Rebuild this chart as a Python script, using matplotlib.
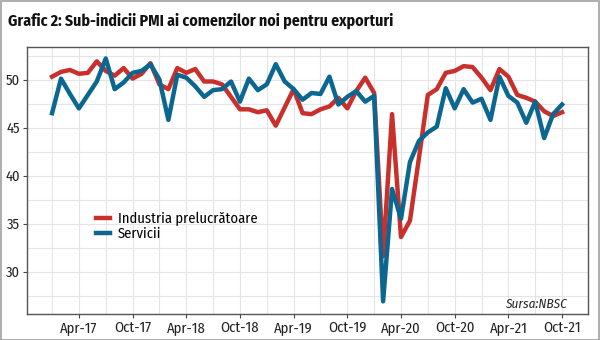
import numpy as np
import matplotlib.pyplot as plt
from matplotlib.ticker import MultipleLocator, FixedLocator

plt.rcParams['font.family'] = ['Fira Sans Condensed', 'PT Sans Narrow', 'Asap Condensed',
                               'Archivo Narrow', 'DejaVu Sans']

# luni: ian-2017 ... oct-2021
luni = np.arange(58)
tick_pos = [3, 9, 15, 21, 27, 33, 39, 45, 51, 57]
tick_lbl = ['Apr-17', 'Oct-17', 'Apr-18', 'Oct-18', 'Apr-19',
            'Oct-19', 'Apr-20', 'Oct-20', 'Apr-21', 'Oct-21']

industrie = [50.3, 50.8, 51.0, 50.6, 50.7, 51.9, 50.9, 50.4, 51.2, 50.1,
             50.6, 51.7, 49.5, 49.0, 51.2, 50.7, 51.1, 49.8, 49.8, 49.5,
             48.2, 46.9, 46.9, 46.6, 46.8, 45.2, 47.1, 49.0, 46.5, 46.4,
             46.9, 47.2, 48.1, 47.0, 48.8, 50.2, 48.6, 31.6, 46.4, 33.6,
             35.3, 41.8, 48.4, 49.0, 50.7, 50.9, 51.4, 51.3, 50.2, 48.9,
             51.1, 50.3, 48.4, 48.1, 47.7, 46.7, 46.2, 46.6]
servicii = [46.5, 50.1, 48.5, 47.0, 48.4, 49.8, 52.2, 49.0, 49.7, 50.7,
            50.9, 51.6, 50.0, 45.8, 50.5, 50.2, 49.3, 48.2, 48.9, 49.0,
            49.8, 47.7, 50.1, 48.9, 49.5, 51.6, 49.8, 49.0, 47.9, 48.6,
            48.5, 50.3, 47.4, 48.2, 48.8, 47.7, 48.3, 26.9, 38.6, 35.5,
            41.4, 43.6, 44.5, 45.1, 49.1, 47.0, 49.0, 47.6, 48.0, 45.8,
            50.3, 48.3, 47.6, 45.5, 47.7, 43.9, 46.4, 47.4]

rosu = '#c9302c'
albastru = '#0b6690'

fig = plt.figure(figsize=(6, 3.4), dpi=100)
fig.patch.set_facecolor('white')
fig.patches.append(plt.Rectangle((0.001, 0.001), 0.997, 0.996, transform=fig.transFigure,
                                 fill=False, edgecolor='#a0a0a0', lw=1.2))

ax = fig.add_axes([0.045, 0.077, 0.935, 0.785])
ax.plot(luni, industrie, color=rosu, lw=3.2, label='Industria prelucrătoare')
ax.plot(luni, servicii, color=albastru, lw=3.2, label='Servicii')

ax.set_xlim(-2.8, 59.9)
ax.set_ylim(25.6, 53.4)
ax.xaxis.set_major_locator(FixedLocator(tick_pos))
ax.set_xticklabels(tick_lbl)
ax.xaxis.set_minor_locator(FixedLocator([0, 6, 12, 18, 24, 30, 36, 42, 48, 54]))
ax.yaxis.set_major_locator(MultipleLocator(5))
ax.yaxis.set_minor_locator(MultipleLocator(2.5))
ax.grid(which='both', color='#e4e4ea', lw=0.8)
ax.set_axisbelow(True)
ax.tick_params(which='minor', length=0)
ax.tick_params(which='major', length=3, color='#444444', labelsize=10.5,
               labelcolor='#222222', pad=2)
for s in ax.spines.values():
    s.set_color('#555555')
    s.set_linewidth(1.0)

leg = ax.legend(loc='upper left', bbox_to_anchor=(0.112, 0.405), frameon=False,
                fontsize=10.5, handlelength=1.0, handletextpad=0.5,
                labelspacing=0.05, borderaxespad=0)

ax.text(0.962, 0.012, 'Sursa:NBSC', transform=ax.transAxes, ha='right', va='bottom',
        fontsize=9.5, style='italic', color='#222222')

fig.text(0.013, 0.94, 'Grafic 2: Sub-indicii PMI ai comenzilor noi pentru exporturi',
         fontsize=11.4, fontweight='bold', color='#111111', va='center')

fig.savefig('out.png', dpi=100)
